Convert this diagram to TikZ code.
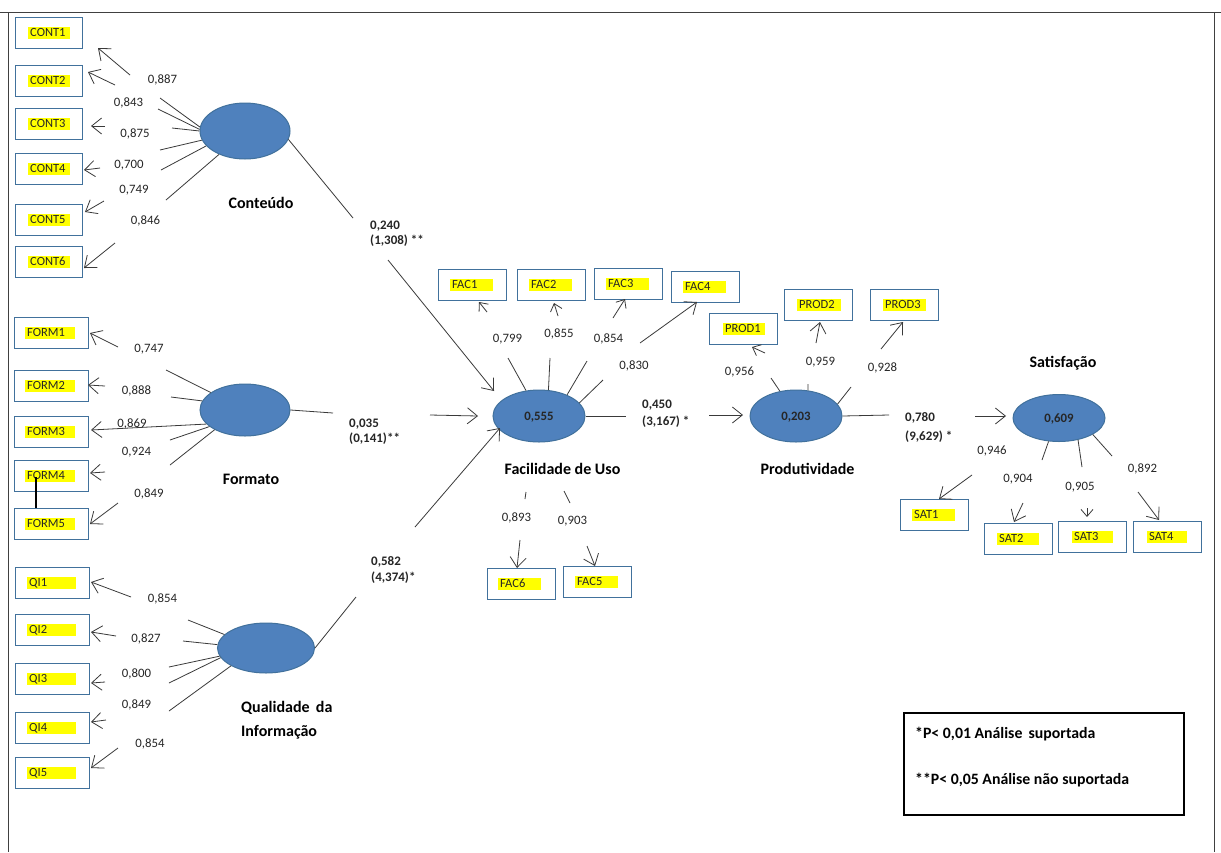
\documentclass[tikz,border=0pt]{standalone}
\usepackage{fontspec}
\setmainfont{Carlito}
\usetikzlibrary{arrows.meta,shapes.geometric}
\definecolor{ellf}{HTML}{4F81BD}
\definecolor{ellb}{HTML}{41719C}
\definecolor{boxc}{HTML}{41719C}
\definecolor{lc}{HTML}{3A3A3A}
\definecolor{txtc}{HTML}{262626}
\definecolor{hly}{HTML}{FFFF00}
\definecolor{framec}{HTML}{404040}
% box with highlighted text: name, x-left, y-top, box width, hl offset, hl text width, text
\newcommand{\ibox}[7]{%
  \node[obox, minimum width=#4pt, anchor=north west] (#1) at (#2,#3) {};
  \node[hl, text width=#6pt] (#1t) at ([xshift=#5pt]#1.west) {#7};}
% segment from a node anchor to a named coordinate
\newcommand{\seg}[3]{\coordinate (#1) at (#3); \draw[ln] (#2) -- (#1);}
% arrow between two named coordinates
\newcommand{\arw}[4][arr]{\coordinate (#2s) at (#3); \coordinate (#2t) at (#4); \draw[#1] (#2s) -- (#2t);}
\begin{document}
\begin{tikzpicture}[x=1pt,y=-1pt,
  ln/.style={draw=lc, line width=0.8pt},
  arr/.style={ln, -{Straight Barb[length=10pt,width=16pt]}},
  arrs/.style={ln, -{Straight Barb[length=7pt,width=12pt]}},
  lat/.style={ellipse, draw=ellb, line width=1pt, fill=ellf, inner sep=0pt,
    font=\bfseries\fontsize{12.8}{14}\selectfont, text height=8.1pt, text depth=0pt, text=txtc},
  obox/.style={draw=boxc, line width=0.8pt, minimum height=31pt, inner sep=0pt},
  hl/.style={fill=hly, anchor=west, inner xsep=2pt, inner ysep=1.6pt, text height=8pt,
    text depth=0pt, align=left, text=txtc, font=\fontsize{12.5}{14}\selectfont},
  num/.style={font=\fontsize{12.8}{14}\selectfont, text height=8.1pt, text depth=0pt,
    inner sep=0pt, text=txtc},
  ttl/.style={font=\bfseries\fontsize{16}{19}\selectfont, inner sep=0pt, text height=10pt,
    text depth=0pt, text=black},
  plab/.style={font=\bfseries\fontsize{13}{16}\selectfont, anchor=west, inner sep=0pt,
    text height=8.2pt, text depth=0pt, text=txtc},
  legt/.style={font=\bfseries\fontsize{15.8}{19}\selectfont, anchor=west, inner sep=0pt,
    text height=10pt, text depth=0pt, text=black},
  frame/.style={draw=framec, line width=1pt}
]
\useasboundingbox (0,0) rectangle (1221,852);
\fill[white] (0,0) rectangle (1221,852);
% frame
\coordinate (fa) at (0,12); \coordinate (fb) at (1221,12);
\coordinate (fc) at (8,12); \coordinate (fd) at (8,852);
\coordinate (fe) at (1214,12); \coordinate (ff) at (1214,852);
\draw[frame] (fa) -- (fb);
\draw[frame] (fc) -- (fd);
\draw[frame] (fe) -- (ff);

% latent variables
\node[lat, minimum width=90pt, minimum height=56pt] (cont) at (245,131) {};
\node[lat, minimum width=90pt, minimum height=52pt] (form) at (245,410) {};
\node[lat, minimum width=97pt, minimum height=50pt] (qi) at (266,648) {};
\node[lat, minimum width=92pt, minimum height=52pt] (fac) at (539,416) {0,555};
\node[lat, minimum width=92pt, minimum height=52pt] (prod) at (796,416) {0,203};
\node[lat, minimum width=92pt, minimum height=47pt] (sat) at (1059,418) {0,609};

% titles
\node[ttl] (tcont) at (261,203) {Conteúdo};
\node[ttl] (tform) at (251,479.5) {Formato};
\node[ttl, anchor=west] (tqi1) at (241,707) {Qualidade\, da};
\node[ttl, anchor=west] (tqi2) at (241,731) {Informação};
\node[ttl] (tfac) at (562.5,469) {Facilidade de Uso};
\node[ttl] (tprod) at (807.5,469) {Produtividade};
\node[ttl] (tsat) at (1063,362) {Satisfação};

% indicator boxes
\ibox{cont1}{15}{17}{67}{13}{38}{CONT1}
\ibox{cont2}{15}{65}{67}{13}{38}{CONT2}
\ibox{cont3}{15}{108}{67}{13}{38}{CONT3}
\ibox{cont4}{15}{153}{67}{13}{38}{CONT4}
\ibox{cont5}{15}{204}{67}{13}{38}{CONT5}
\ibox{cont6}{15}{246}{67}{13}{38}{CONT6}
\ibox{form1}{14}{317}{74}{11}{46}{FORM1}
\ibox{form2}{14}{370}{74}{11}{46}{FORM2}
\ibox{form3}{14}{416}{74}{11}{46}{FORM3}
\ibox{form4}{14}{460}{74}{11}{46}{FORM4}
\ibox{form5}{14}{508}{74}{11}{46}{FORM5}
\ibox{qi1}{15}{567}{74}{12}{45}{QI1}
\ibox{qi2}{15}{614}{74}{12}{45}{QI2}
\ibox{qi3}{15}{663}{74}{12}{45}{QI3}
\ibox{qi4}{15}{712}{74}{12}{45}{QI4}
\ibox{qi5}{15}{757}{74}{12}{45}{QI5}
\ibox{fac1}{438}{269}{68}{12}{39}{FAC1}
\ibox{fac2}{517}{269}{68}{12}{39}{FAC2}
\ibox{fac3}{594}{268}{68}{12}{39}{FAC3}
\ibox{fac4}{671}{271}{68}{12}{39}{FAC4}
\ibox{fac6}{487}{568}{68}{11}{39}{FAC6}
\ibox{fac5}{563}{566}{68}{12}{39}{FAC5}
\ibox{prod1}{709}{313}{68}{14}{38}{PROD1}
\ibox{prod2}{784}{289}{68}{13}{40}{PROD2}
\ibox{prod3}{870}{289}{68}{13}{39}{PROD3}
\ibox{sat1}{900}{499}{68}{12}{39}{SAT1}
\ibox{sat2}{984}{523}{68}{13}{38}{SAT2}
\ibox{sat3}{1058}{521}{68}{14}{37}{SAT3}
\ibox{sat4}{1133}{521}{68}{14}{36}{SAT4}

% FORM4 - FORM5 black bar
\coordinate (fbar1) at (36,477); \coordinate (fbar2) at (36,508);
\draw[black, line width=1.4pt] (fbar1) -- (fbar2);

% Conteudo loadings
\seg{c1e}{cont.175}{160,98}
\seg{c2e}{cont.178}{158,109}
\seg{c3e}{cont.180}{172,128}
\seg{c4e}{cont.192}{160,150}
\seg{c5e}{cont.201}{161,170}
\seg{c6e}{cont.222}{166,200}
\arw{ca1}{130,75}{98,48}
\arw{ca2}{115,85}{88,72}
\arw{ca3}{105,126}{91,126}
\arw{ca4}{100,168}{84,170}
\arw{ca5}{104,201}{85,212}
\arw{ca6}{115,243}{84,268}
\node[num] (lc1) at (162.5,79) {0,887};
\node[num] (lc2) at (128.5,102) {0,843};
\node[num] (lc3) at (135,133) {0,875};
\node[num] (lc4) at (129,164) {0,700};
\node[num] (lc5) at (134,189) {0,749};
\node[num] (lc6) at (145.5,220.5) {0,846};

% Formato loadings
\seg{f1e}{form.153}{166,370}
\seg{f2e}{form.168}{171,397}
\coordinate (fa3t) at (91,430);
\draw[arr] (form.200) -- (fa3t);
\seg{f4e}{form.205}{170,440}
\seg{f5e}{form.213}{170,465}
\arw{fa1}{118,347}{90,333}
\arw{fa2}{105,386}{88,385}
\arw{fa4}{105,472}{90,473}
\arw{fa5}{118,503}{90,524}
\node[num] (lf1) at (149,348) {0,747};
\node[num] (lf2) at (136.5,390.5) {0,888};
\node[num] (lf3) at (132,423) {0,869};
\node[num] (lf4) at (136.5,451.5) {0,924};
\node[num] (lf5) at (149,493.5) {0,849};

% Qualidade loadings
\seg{q1e}{qi.162}{188,620}
\seg{q2e}{qi.176}{183,641}
\seg{q3e}{qi.190}{169,667}
\seg{q4e}{qi.192}{169,683}
\seg{q5e}{qi.207}{169,711}
\arw{qa1}{131,597}{91,582}
\arw{qa2}{116,636}{91,632}
\arw{qa3}{105,682}{91,683}
\arw{qa4}{106,720}{91,722}
\arw{qa5}{118,748}{91,768}
\node[num] (lq1) at (162.5,598) {0,854};
\node[num] (lq2) at (146,638) {0,827};
\node[num] (lq3) at (136.5,673.5) {0,800};
\node[num] (lq4) at (136.5,704.5) {0,849};
\node[num] (lq5) at (150,743) {0,854};

% structural paths
\seg{p1e}{cont.349}{353,218}
\arw{p1a}{388,260}{494,391}
\node[plab] (pl1a) at (370,225) {0,240};
\node[plab] (pl1b) at (370,240.5) {(1,308) **};
\seg{p2e}{form.east}{333,413}
\arw{p2a}{430,415}{478,416}
\node[plab] (pl2a) at (349,423) {0,035};
\node[plab] (pl2b) at (349,438) {(0,141)**};
\seg{p3e}{qi.east}{356,597}
\arw{p3a}{415,527}{500,428}
\node[plab] (pl3a) at (371,561) {0,582};
\node[plab] (pl3b) at (371,577.5) {(4,374)*};
\seg{p4e}{fac.east}{626,416}
\arw{p4a}{709,415}{743,415}
\node[plab] (pl4a) at (642,404) {0,450};
\node[plab] (pl4b) at (642,421.5) {(3,167) *};
\seg{p5e}{prod.east}{889,415}
\arw{p5a}{975,416}{1006,416}
\node[plab] (pl5a) at (905,417.5) {0,780};
\node[plab] (pl5b) at (905,436) {(9,629) *};

% Facilidade loadings
\seg{g1e}{fac.117}{508,358}
\seg{g2e}{fac.70}{550,358}
\seg{g3e}{fac.37}{587,361}
\seg{g4e}{fac.18}{603,380}
\arw[arrs]{ga1}{487,312}{479,302}
\arw[arrs]{ga2}{558,316}{554,303}
\arw[arrs]{ga3}{613,318}{625,299}
\arw{ga4}{640,343}{697,302}
\coordinate (g6a) at (526,492); \coordinate (g6b) at (525,499);
\draw[ln] (g6a) -- (g6b);
\arw{ga6}{520,540}{517,568}
\coordinate (g5a) at (564,491); \coordinate (g5b) at (570,503);
\draw[ln] (g5a) -- (g5b);
\arw{ga5}{587,546}{595,566}
\node[num] (lg1) at (507.5,338.5) {0,799};
\node[num] (lg2) at (559,333.5) {0,855};
\node[num] (lg3) at (608.5,338) {0,854};
\node[num] (lg4) at (634,365) {0,830};
\node[num] (lg6) at (516.5,517.5) {0,893};
\node[num] (lg5) at (572.5,520.5) {0,903};

% Produtividade loadings
\seg{h1e}{prod.123}{771,378}
\seg{h2e}{prod.65}{808,384}
\seg{h3e}{prod.16}{851,387}
\arw[arrs]{ha1}{765,353}{752,347}
\arw{ha2}{816,343}{820,322}
\arw{ha3}{881,349}{903,322}
\node[num] (lh1) at (739.5,371.5) {0,956};
\node[num] (lh2) at (820.5,361.5) {0,959};
\node[num] (lh3) at (882.5,367) {0,928};

% Satisfacao loadings
\seg{s1e}{sat.246}{1042,460}
\seg{s2e}{sat.311}{1082,467}
\seg{s3e}{sat.334}{1112,456}
\arw{sa1}{972,475}{939,499}
\arw{sa2}{1023,503}{1014,522}
\arw[arrs]{sa3}{1087,508}{1087,517}
\arw{sa4}{1138,492}{1159,520}
\node[num] (ls1) at (992,450.5) {0,946};
\node[num] (ls2) at (1018,478) {0,904};
\node[num] (ls3) at (1080,486.5) {0,905};
\node[num] (ls4) at (1142.5,468.5) {0,892};

% legend
\node[draw=black, line width=2pt, minimum width=280pt, minimum height=102pt,
  anchor=north west, inner sep=0pt] (leg) at (903,712) {};
\node[legt] (leg1) at ([xshift=12pt,yshift=-21.5pt]leg.north west) {*P< 0,01 Análise\, suportada};
\node[legt] (leg2) at ([xshift=12pt,yshift=-67.5pt]leg.north west) {**P< 0,05 Análise não suportada};
\end{tikzpicture}
\end{document}
